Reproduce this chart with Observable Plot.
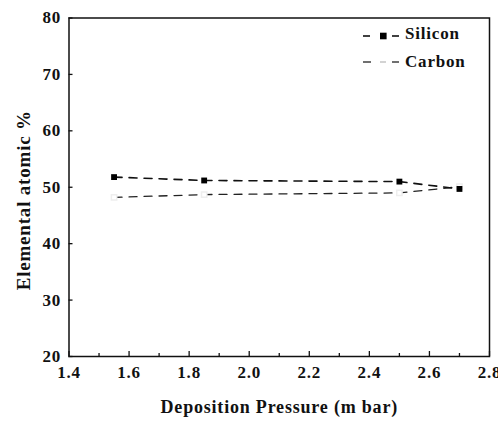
<!DOCTYPE html>
<html><head><meta charset="utf-8">
<script src="https://cdn.jsdelivr.net/npm/d3@7"></script>
<script src="https://cdn.jsdelivr.net/npm/@observablehq/plot@0.6"></script>
<style>
body{margin:0;background:#fff;}
#chart{position:relative;width:498px;height:423px;overflow:hidden;}
#chart svg text{letter-spacing:0.8px;}
</style></head><body><div id="chart"></div>
<script>
const pressure = [1.55, 1.85, 2.5, 2.7];
const silicon = [51.8, 51.2, 51.0, 49.7];
const carbon = [48.2, 48.7, 49.0, 50.1];
const xTicks = [1.4, 1.6, 1.8, 2.0, 2.2, 2.4, 2.6, 2.8];
const xMinorTicks = [1.5, 1.7, 1.9, 2.1, 2.3, 2.5, 2.7];
const yTicks = [20, 30, 40, 50, 60, 70, 80];
const seriesNames = ["Silicon", "Carbon"];
const xTitle = "Deposition Pressure (m bar)";
const yTitle = "Elemental atomic %";

const font = "'Liberation Serif','Times New Roman',serif";
const siData = pressure.map((x, i) => ({x, y: silicon[i]}));
const cData = pressure.map((x, i) => ({x, y: carbon[i]}));

const plot = Plot.plot({
  width: 498, height: 423,
  marginLeft: 68.5, marginRight: 9, marginTop: 17.5, marginBottom: 67,
  x: {domain: [1.4, 2.8]},
  y: {domain: [20, 80]},
  style: {fontFamily: font, fontWeight: "bold", fontSize: "17px", color: "#111", background: "#fff"},
  marks: [
    Plot.axisX(xTicks, {tickSize: -5, tickPadding: 14, tickFormat: d => d.toFixed(1), label: null, strokeWidth: 1.3}),
    Plot.axisX(xMinorTicks, {tickSize: -3, text: null, label: null, strokeWidth: 1.3}),
    Plot.axisY(yTicks, {tickSize: -4, tickPadding: 12, label: null, strokeWidth: 1.3}),
    Plot.frame({strokeWidth: 1.5, stroke: "#111"}),
    Plot.line(cData, {x: "x", y: "y", stroke: "#222", strokeWidth: 1.3, strokeDasharray: "8,7"}),
    Plot.line(siData, {x: "x", y: "y", stroke: "#111", strokeWidth: 1.6, strokeDasharray: "8,7"}),
    Plot.dot(cData, {x: "x", y: "y", symbol: "square", r: 3, fill: "white", stroke: "#eee"}),
    Plot.dot(siData, {x: "x", y: "y", symbol: "square", r: 3.3, fill: "#000"}),
    Plot.text([xTitle], {frameAnchor: "bottom", textAnchor: "middle", dy: 56, fontSize: 18, fill: "#111"}),
    Plot.text([yTitle], {frameAnchor: "left", textAnchor: "middle", rotate: -90, dx: -45.5, dy: 13, fontSize: 19, fill: "#111"})
  ]
});

const svg = d3.select(plot);
const lg = svg.append("g").attr("font-family", font).attr("font-weight", "bold").attr("font-size", 17).attr("fill", "#111").attr("text-anchor", "start");
// Silicon entry
lg.append("line").attr("x1", 363).attr("x2", 370).attr("y1", 36).attr("y2", 36).attr("stroke", "#111").attr("stroke-width", 1.6);
lg.append("line").attr("x1", 392).attr("x2", 399).attr("y1", 36).attr("y2", 36).attr("stroke", "#111").attr("stroke-width", 1.6);
lg.append("rect").attr("x", 380).attr("y", 32.7).attr("width", 6.6).attr("height", 6.6).attr("fill", "#000");
lg.append("text").attr("x", 405).attr("y", 39).attr("text-anchor", "start").text(seriesNames[0]);
// Carbon entry
lg.append("line").attr("x1", 363).attr("x2", 371).attr("y1", 62).attr("y2", 62).attr("stroke", "#222").attr("stroke-width", 1.3);
lg.append("line").attr("x1", 380).attr("x2", 386).attr("y1", 62).attr("y2", 62).attr("stroke", "#bbb").attr("stroke-width", 1.3);
lg.append("line").attr("x1", 392).attr("x2", 399).attr("y1", 62).attr("y2", 62).attr("stroke", "#222").attr("stroke-width", 1.3);
lg.append("text").attr("x", 405).attr("y", 66.5).attr("text-anchor", "start").text(seriesNames[1]);

document.getElementById("chart").appendChild(plot);
</script></body></html>
